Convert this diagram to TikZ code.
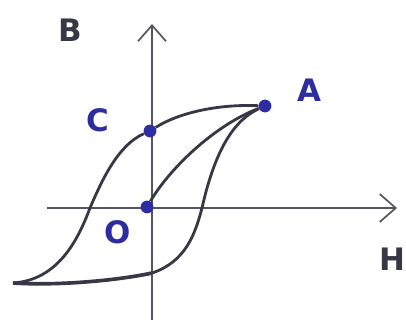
\documentclass[tikz,border=0pt]{standalone}
\usepackage{fontspec}
\setmainfont{DejaVu Sans}
\usetikzlibrary{arrows.meta}
\definecolor{inkblue}{RGB}{45,45,160}
\definecolor{pencil}{RGB}{55,55,70}
\begin{document}
\begin{tikzpicture}[
    x=0.25mm,y=-0.25mm,
    axis/.style={draw=pencil!85,line width=1.2pt},
    loopline/.style={draw=pencil,line width=2pt},
    dot/.style={circle,fill=inkblue,inner sep=0pt,minimum size=3.2mm},
    lbl/.style={font=\fontsize{22}{26}\selectfont\bfseries},
    >={Straight Barb[length=4mm,width=7mm,line width=1.2pt]}]
  \useasboundingbox (0,0) rectangle (406,321);
  % axes
  \coordinate (xl) at (47,208);
  \coordinate (xr) at (397,208);
  \coordinate (yb) at (152,320);
  \coordinate (yt) at (152,24);
  \draw[axis,->] (xl) -- (xr);
  \draw[axis,->] (yb) -- (yt);
  % points on the loop
  \node[dot] (A) at (265,106) {};
  \node[dot] (C) at (150,131) {};
  \node[dot] (O) at (147,207) {};
  \coordinate (tip) at (13,283);
  \coordinate (neg) at (90,208);
  \coordinate (bot) at (152,273);
  \coordinate (pos) at (202,208);
  % hysteresis loop
  \draw[loopline] (A) .. controls (220,104) and (180,112) .. (C);
  \draw[loopline] (C) .. controls (118,145) and (102,180) .. (neg)
    .. controls (78,240) and (58,280) .. (tip);
  \draw[loopline,line width=2.6pt] (tip) .. controls (60,286) and (120,280) .. (bot);
  \draw[loopline] (bot) .. controls (185,262) and (195,235) .. (pos)
    .. controls (215,150) and (234,120) .. (A);
  \draw[loopline] (O) .. controls (170,168) and (215,125) .. (A);
  % labels
  \node[lbl,text=pencil] (lb) at (70,30) {B};
  \node[lbl,text=pencil] (lh) at (392,259) {H};
  \node[lbl,text=inkblue] (la) at (309,90) {A};
  \node[lbl,text=inkblue] (lc) at (98,120) {C};
  \node[lbl,text=inkblue] (lo) at (118,232) {O};
\end{tikzpicture}
\end{document}
